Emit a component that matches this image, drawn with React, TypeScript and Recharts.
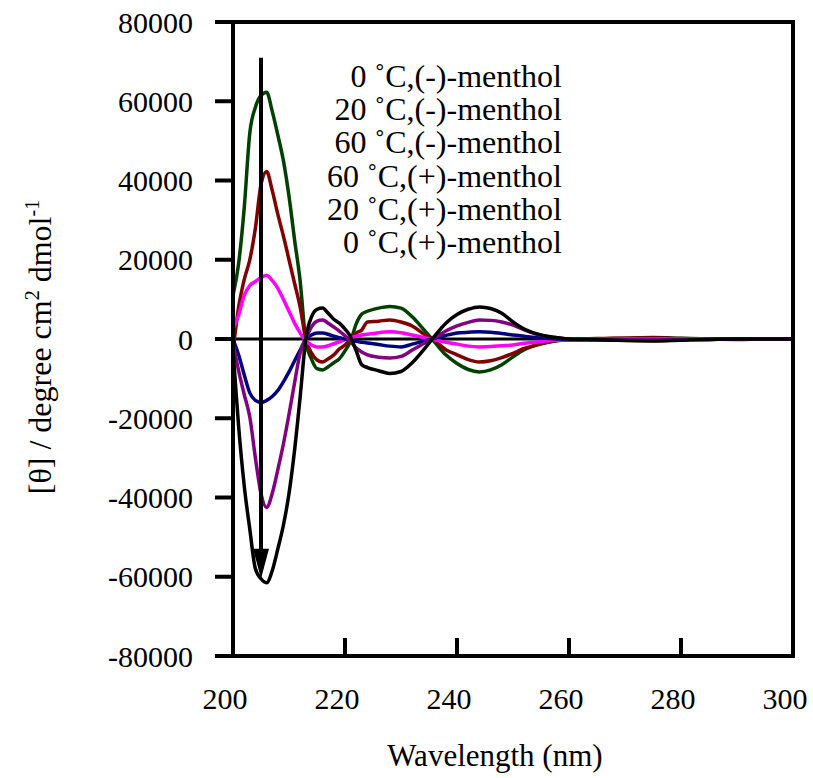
import React from "react";
import {
  LineChart,
  Line,
  XAxis,
  YAxis,
  Legend,
  ReferenceLine,
  ReferenceArea,
} from "recharts";

const FONT = "Liberation Serif, DejaVu Serif, serif";

const WAVELENGTH = [
  200, 201, 202, 203, 204, 205, 206, 207, 208, 209, 210, 211, 212, 213, 214, 215,
  216, 217, 218, 219, 220, 221, 222, 223, 224, 226, 228, 230, 232, 234, 236, 238,
  240, 242, 244, 246, 248, 250, 252, 254, 256, 258, 260, 265, 270, 275, 280, 285,
  290, 295, 300,
];

const T0_MINUS = [
  11000, 19000, 33000, 52000, 58500, 61500, 62300, 57500, 51500, 45000, 36000, 25000,
  14500, -500, -5000, -7500, -7800, -7000, -6000, -5000, -3000, -500, 3800, 6300,
  7000, 7800, 8200, 7800, 5600, 2500, -800, -4000, -6200, -7700, -8300, -7800, -6500,
  -4500, -2700, -1600, -900, -400, -200, 0, 200, 400, 200, 0, -100, 0, 0,
];

const T20_MINUS = [
  -3000, 8000, 15000, 20000, 28000, 39000, 42300, 37500, 31500, 26000, 20000, 14000,
  8000, 0, -3500, -5300, -5800, -5000, -4000, -2500, -1500, 0, 1500, 2300, 4300, 4500,
  4800, 4300, 3300, 1300, -400, -2700, -4000, -5200, -5800, -5500, -4700, -3600,
  -2400, -1600, -900, -400, -200, 100, 200, 300, 100, 0, 0, 0, 0,
];

const T60_MINUS = [
  2500, 6000, 11000, 13500, 14500, 15500, 16000, 14800, 12800, 10000, 7000, 4000, 1500,
  -500, -1500, -2000, -2000, -1700, -1200, -700, -200, 300, 700, 1000, 1200, 1600,
  1800, 1600, 1000, 400, -200, -800, -1300, -1800, -2000, -1900, -1700, -1500, -1100,
  -800, -500, -300, -200, -100, 0, 0, 0, 0, 0, 0, 0,
];

const T60_PLUS = [
  0, -4000, -9000, -13600, -15500, -16000, -15500, -14500, -13000, -10800, -8300,
  -5500, -2800, 0, 1000, 1500, 1500, 1200, 700, 300, 0, -300, -600, -800, -1000,
  -1400, -1800, -2000, -1300, -500, 200, 900, 1500, 1700, 1800, 1700, 1400, 1000, 700,
  400, 200, 0, -100, -200, -300, -300, -200, -100, 0, 0, 0,
];

const T20_PLUS = [
  -1000, -8000, -14000, -19700, -30000, -39000, -42500, -39000, -33000, -26500,
  -19000, -11000, -3500, 0, 3000, 4500, 4800, 4000, 3000, 2000, 800, -600, -2300,
  -3300, -4000, -4600, -4800, -4400, -2800, -1200, 300, 2000, 3300, 4200, 4800, 4700,
  4300, 3500, 2300, 1300, 700, 300, 0, -200, -300, -400, -200, -100, 0, 0, 0,
];

const T0_PLUS = [
  -3000, -22000, -37000, -48000, -58000, -60500, -61500, -58500, -53000, -47000,
  -39000, -28000, -14500, 0, 5500, 7500, 7800, 6500, 5000, 4000, 2500, 500, -3000,
  -6500, -7200, -8000, -8700, -8200, -6000, -2800, 700, 4000, 6200, 7500, 8100, 7700,
  6500, 4300, 2500, 1400, 700, 300, 0, -200, -400, -500, -300, -100, 0, 0, 0,
];

const X_TICKS = [200, 220, 240, 260, 280, 300];
const Y_TICKS = [-80000, -60000, -40000, -20000, 0, 20000, 40000, 60000, 80000];

const SERIES = [
  { key: "t0m", name: "0 ˚C,(-)-menthol", color: "#004000", values: T0_MINUS },
  { key: "t20m", name: "20 ˚C,(-)-menthol", color: "#800000", values: T20_MINUS },
  { key: "t60m", name: "60 ˚C,(-)-menthol", color: "#ff00ff", values: T60_MINUS },
  { key: "t60p", name: "60 ˚C,(+)-menthol", color: "#000080", values: T60_PLUS },
  { key: "t20p", name: "20 ˚C,(+)-menthol", color: "#800080", values: T20_PLUS },
  { key: "t0p", name: "0 ˚C,(+)-menthol", color: "#000000", values: T0_PLUS },
];

// arrow marking the trend from (-) to (+) menthol
const ARROW_X = 205;
const ARROW_FROM = 71000;
const ARROW_TO = -60500;

const data = WAVELENGTH.map((wl, i) => {
  const row: Record<string, number> = { wl };
  SERIES.forEach((s) => (row[s.key] = s.values[i]));
  return row;
});

function XTick(props: any) {
  const { x, y, payload } = props;
  const v = payload.value;
  return (
    <g>
      {v > 200 && v < 300 && (
        <line x1={x} x2={x} y1={y} y2={y - 18} stroke="#000" strokeWidth={4} />
      )}
      <text x={x - 8} y={y + 53} textAnchor="middle" fontFamily={FONT} fontSize={30} fill="#000">
        {v}
      </text>
    </g>
  );
}

function ArrowShape(props: any) {
  const { x1, y1, x2, y2 } = props;
  const head = 30;
  const hw = 8;
  return (
    <g>
      <line x1={x1} y1={y1} x2={x2} y2={y2 - head + 4} stroke="#000" strokeWidth={4} />
      <polygon
        points={`${x2 - hw},${y2 - head} ${x2 + hw},${y2 - head} ${x2},${y2}`}
        fill="#000"
      />
    </g>
  );
}

function YLabel() {
  const cx = 51;
  const cy = 347;
  return (
    <text
      x={cx}
      y={cy}
      transform={`rotate(-90, ${cx}, ${cy})`}
      textAnchor="middle"
      fontFamily={FONT}
      fontSize={32}
      fill="#000"
    >
      <tspan>[θ] / degree cm</tspan>
      <tspan dy={-12} fontSize={20}>2</tspan>
      <tspan dy={12}> dmol</tspan>
      <tspan dy={-12} fontSize={20}>-1</tspan>
    </text>
  );
}

function XLabel() {
  return (
    <text x={495} y={766} textAnchor="middle" fontFamily={FONT} fontSize={31} fill="#000">
      Wavelength (nm)
    </text>
  );
}

function LegendText(props: any) {
  const payload = [...(props.payload || [])];
  const order = (p: any) => SERIES.findIndex((s) => s.name === p.value);
  payload.sort((a: any, b: any) => order(a) - order(b));
  return (
    <div
      style={{
        textAlign: "right",
        fontFamily: FONT,
        fontSize: 32,
        lineHeight: "33.2px",
        color: "#000",
      }}
    >
      {payload.map((p: any) => (
        <div key={p.value}>{p.value}</div>
      ))}
    </div>
  );
}

export default function App() {
  return (
    <div style={{ position: "absolute", left: 0, top: 0, background: "#fff" }}>
      <LineChart
        width={813}
        height={778}
        data={data}
        margin={{ top: 22, right: 20, bottom: 0, left: 0 }}
      >
        <XAxis
          dataKey="wl"
          type="number"
          domain={[200, 300]}
          ticks={X_TICKS}
          height={122}
          tickSize={0}
          tickMargin={0}
          tickLine={false}
          axisLine={{ stroke: "#000", strokeWidth: 4 }}
          tick={<XTick />}
          label={<XLabel />}
          allowDataOverflow
        />
        <YAxis
          type="number"
          domain={[-80000, 80000]}
          ticks={Y_TICKS}
          width={233}
          tickSize={18}
          tickMargin={22}
          tickLine={{ stroke: "#000", strokeWidth: 4 }}
          axisLine={{ stroke: "#000", strokeWidth: 4 }}
          tick={{ fontFamily: FONT, fontSize: 30, fill: "#000" }}
          label={<YLabel />}
          interval={0}
          allowDataOverflow
        />
        <ReferenceArea
          x1={200}
          x2={300}
          y1={-80000}
          y2={80000}
          fill="none"
          stroke="#000"
          strokeWidth={4}
          fillOpacity={0}
        />
        <ReferenceLine y={0} stroke="#000" strokeWidth={3} />
        <Legend
          layout="vertical"
          align="center"
          verticalAlign="middle"
          content={<LegendText />}
          wrapperStyle={{ top: 60, left: 212, width: 350, bottom: "auto", right: "auto" }}
        />
        {SERIES.map((s) => (
          <Line
            key={s.key}
            dataKey={s.key}
            name={s.name}
            type="monotone"
            stroke={s.color}
            strokeWidth={3.5}
            dot={false}
            activeDot={false}
            isAnimationActive={false}
          />
        ))}
        <ReferenceLine
          segment={[
            { x: ARROW_X, y: ARROW_FROM },
            { x: ARROW_X, y: ARROW_TO },
          ]}
          shape={<ArrowShape />}
        />
      </LineChart>
    </div>
  );
}
